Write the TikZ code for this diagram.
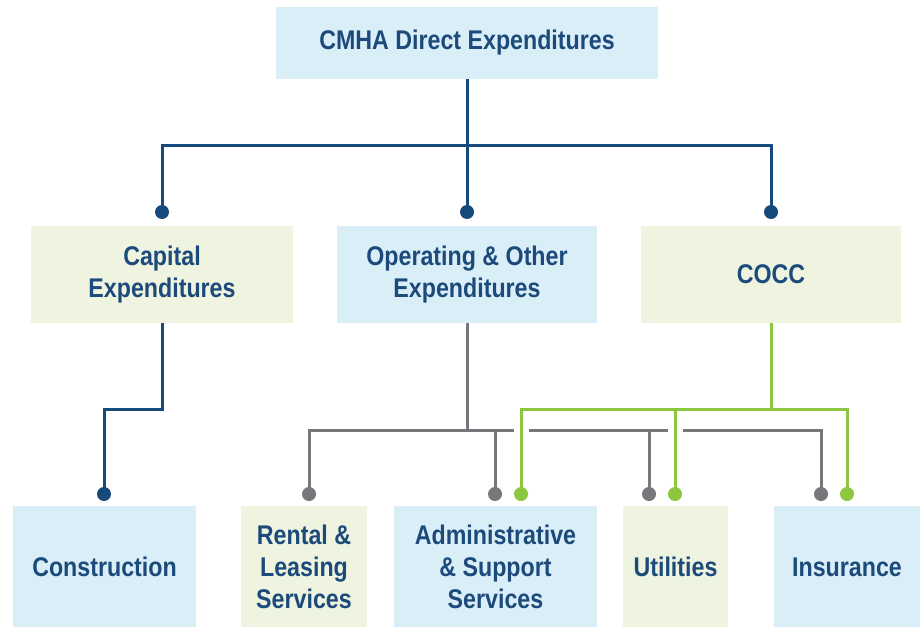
\documentclass[tikz,border=0pt]{standalone}
\usepackage{xcolor}
\usepackage{fontspec}
\setmainfont{Liberation Sans}[FakeStretch=0.86]
\usepackage{tikz}
\usetikzlibrary{positioning}

\definecolor{boxblue}{HTML}{DAEEF8}
\definecolor{boxgreen}{HTML}{EEF4E0}
\definecolor{navy}{HTML}{1B4A7B}
\definecolor{lineblue}{HTML}{174A7C}
\definecolor{linegrey}{HTML}{77787B}
\definecolor{linegreen}{HTML}{8DC63F}

\begin{document}
\begin{tikzpicture}[x=1pt, y=-1pt,
    box/.style={inner sep=0pt, align=center, text=navy,
        font=\fontsize{27}{32}\selectfont\bfseries},
    bluebox/.style={box, fill=boxblue},
    greenbox/.style={box, fill=boxgreen},
    dot/.style={circle, inner sep=0pt, minimum size=14pt},
    blueline/.style={lineblue, line width=3pt},
    greyline/.style={linegrey, line width=3pt},
    greenline/.style={linegreen, line width=3pt}]
    \useasboundingbox (0,0) rectangle (920,626);

    % Boxes
    \node[bluebox, minimum width=382pt, minimum height=72pt] (top) at (467,43) {CMHA Direct Expenditures};
    \node[greenbox, minimum width=262pt, minimum height=97pt] (cap) at (162,274.5) {Capital\\Expenditures};
    \node[bluebox, minimum width=260pt, minimum height=97pt] (oper) at (467,274.5) {Operating \& Other\\Expenditures};
    \node[greenbox, minimum width=260pt, minimum height=97pt] (cocc) at (771,274.5) {COCC};
    \node[bluebox, minimum width=183pt, minimum height=122pt] (cons) at (104.5,567) {Construction};
    \node[greenbox, minimum width=126pt, minimum height=122pt] (rent) at (304,567) {Rental \&\\Leasing\\Services};
    \node[bluebox, minimum width=203pt, minimum height=122pt] (admin) at (495.5,567) {Administrative\\\& Support\\Services};
    \node[greenbox, minimum width=105pt, minimum height=122pt] (util) at (675.5,567) {Utilities};
    \node[bluebox, minimum width=146pt, minimum height=122pt] (ins) at (847,567) {Insurance};

    % Dots
    \node[dot, fill=lineblue] (dcap) at (162,212) {};
    \node[dot, fill=lineblue] (doper) at (467,212) {};
    \node[dot, fill=lineblue] (dcocc) at (771,212) {};
    \node[dot, fill=lineblue] (dcons) at (104,494) {};
    \node[dot, fill=linegrey] (drent) at (309,494) {};
    \node[dot, fill=linegrey] (dadmin) at (495,494) {};
    \node[dot, fill=linegrey] (dutil) at (649,494) {};
    \node[dot, fill=linegrey] (dins) at (821,494) {};
    \node[dot, fill=linegreen] (gadmin) at (521,494) {};
    \node[dot, fill=linegreen] (gutil) at (675,494) {};
    \node[dot, fill=linegreen] (gins) at (847,494) {};

    % Top level
    \coordinate (tbar) at (467,145);
    \draw[blueline] (top.south) -- (doper.center);
    \draw[blueline] (tbar) -| (dcap.center);
    \draw[blueline] (tbar) -| (dcocc.center);

    % Capital
    \draw[blueline] (cap.south) -- ++(0,86) -| (dcons.center);

    % Operating
    \coordinate (gbar) at (467,430);
    \draw[greyline] (oper.south) -- (gbar);
    \draw[greyline] (gbar) -| (drent.center);
    \draw[greyline] (gbar) -| (dins.center);
    \draw[greyline] (dadmin.center |- gbar) -- (dadmin.center);
    \draw[greyline] (dutil.center |- gbar) -- (dutil.center);

    % Gaps where the COCC lines cross
    \draw[white, line width=15pt] (521,422) -- (521,438);
    \draw[white, line width=15pt] (675,422) -- (675,438);

    % COCC
    \coordinate (cbar) at (771,409);
    \draw[greenline] (cocc.south) -- (cbar);
    \draw[greenline] (cbar) -| (gadmin.center);
    \draw[greenline] (cbar) -| (gins.center);
    \draw[greenline] (gutil.center |- cbar) -- (gutil.center);
\end{tikzpicture}
\end{document}
